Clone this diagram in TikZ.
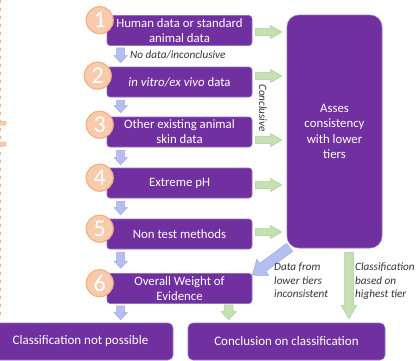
\documentclass[tikz,border=0pt]{standalone}
\usepackage{fontspec}
\setmainfont{Carlito}
\usetikzlibrary{calc}
\definecolor{purp}{HTML}{7030A0}
\definecolor{purpline}{HTML}{9470C0}
\definecolor{peach}{HTML}{F8CBAD}
\definecolor{peachline}{HTML}{F4B183}
\definecolor{bluearr}{HTML}{B4BEF0}
\definecolor{bluearrline}{HTML}{9FAAE6}
\definecolor{greenarr}{HTML}{C5E0B4}
\definecolor{greenarrline}{HTML}{A9D18E}
\definecolor{lbl}{HTML}{333333}
% #1 style, #2 half shaft, #3 half head, #4 head length, #5 from, #6 to
\newcommand\blockarr[6]{%
 \path[#1] let \p1=(#5), \p2=(#6), \n1={atan2(\y2-\y1,\x2-\x1)}, \n2={veclen(\x2-\x1,\y2-\y1)-#4} in
 ($(\p1)+(\n1+90:#2pt)$) -- ($(\p1)+(\n1:\n2)+(\n1+90:#2pt)$) -- ($(\p1)+(\n1:\n2)+(\n1+90:#3pt)$) -- (\p2) -- ($(\p1)+(\n1:\n2)+(\n1-90:#3pt)$) -- ($(\p1)+(\n1:\n2)+(\n1-90:#2pt)$) -- ($(\p1)+(\n1-90:#2pt)$) -- cycle;}
\begin{document}
\begin{tikzpicture}[x=1pt,y=-1pt,
  tier/.style={draw=purpline, line width=0.6pt, fill=purp, rounded corners=3pt, minimum width=145pt, minimum height=30pt, text=white, align=center, font=\fontsize{12.8}{15}\selectfont, inner sep=0pt},
  bigbox/.style={draw=purpline, line width=0.6pt, fill=purp, rounded corners=12pt, minimum width=95pt, minimum height=233pt, text=white, align=center, font=\fontsize{12.8}{15.5}\selectfont, inner sep=0pt},
  endbox/.style={draw=purpline, line width=0.6pt, fill=purp, rounded corners=5pt, minimum height=37pt, text=white, align=center, font=\fontsize{13}{15}\selectfont, inner sep=0pt},
  num/.style={circle, draw=peachline, line width=1.2pt, fill=peach, minimum size=27pt, inner sep=0pt, text=white, font=\fontsize{24}{24}\selectfont},
  lab/.style={text=lbl, font=\fontsize{11.2}{13.5}\selectfont\itshape, inner sep=0pt},
  bluea/.style={fill=bluearr, draw=bluearrline, line width=0.5pt},
  greena/.style={fill=greenarr, draw=greenarrline, line width=0.5pt}
]
\useasboundingbox (0,0) rectangle (416,360);
\clip (0,0) rectangle (416,360);
\fill[white] (0,0) rectangle (416,360);

% left edge decoration
\draw[peachline, line width=1pt, dash pattern=on 3pt off 5pt] (0.5,0) -- (0.5,320);
\draw[peachline, fill=peach, rounded corners=1pt, line width=0.5pt] (-2,121) rectangle (6,125);
\draw[peachline, fill=peach, rounded corners=1pt, line width=0.5pt] (-2,142) rectangle (6,146);

% tier boxes
\node[tier] (b1) at (179.5,30.5) {Human data or standard\\animal data};
\node[tier] (b2) at (179.5,82) {\textit{in vitro/ex vivo} data};
\node[tier] (b3) at (179.5,132) {Other existing animal\\skin data};
\node[tier] (b4) at (179.5,183) {Extreme pH};
\node[tier] (b5) at (179.5,234) {Non test methods};
\node[tier] (b6) at (179.5,288.5) {Overall Weight of\\Evidence};

\node[bigbox] (big) at (334.5,131.5) {Asses\\consistency\\with lower\\tiers};

\node[endbox, minimum width=185pt] (cnp) at (80.5,341.5) {Classification not possible};
\node[endbox, minimum width=197pt] (cc) at (286.5,341.5) {Conclusion on classification};

% number circles
\node[num] (n1) at ($(b1.north west)+(-7,5)$) {1};
\node[num] (n2) at ($(b2.north west)+(-9,9)$) {2};
\node[num] (n3) at ($(b3.north west)+(-7,8)$) {3};
\node[num] (n4) at ($(b4.north west)+(-7,10)$) {4};
\node[num] (n5) at ($(b5.north west)+(-7,10)$) {5};
\node[num] (n6) at ($(b6.north west)+(-7,10)$) {6};

% blue down arrows
\blockarr{bluea}{4}{6.5}{7}{$(b1.south west)+(14,2)$}{$(b2.north west)+(14,-4)$}
\blockarr{bluea}{4}{6.5}{7}{$(b2.south west)+(14,3)$}{$(b3.north west)+(14,-4)$}
\blockarr{bluea}{4}{6.5}{7}{$(b3.south west)+(14,3)$}{$(b4.north west)+(14,-3)$}
\blockarr{bluea}{4}{6.5}{7}{$(b4.south west)+(14,3)$}{$(b5.north west)+(14,-4)$}
\blockarr{bluea}{4}{6.5}{7}{$(b5.south west)+(14,3)$}{$(b6.north west)+(14,-5)$}
\blockarr{bluea}{4}{6.5}{7}{$(b6.south west)+(14,2)$}{$(b6.south west |- cnp.north)+(14,-3)$}

% green horizontal arrows
\blockarr{greena}{3.5}{6.5}{11}{$(b1.east)+(3,1.5)$}{$(big.west |- b1.east)+(-5,1.5)$}
\blockarr{greena}{3.5}{6.5}{11}{$(b2.east)+(3,-6)$}{$(big.west |- b2.east)+(-5,-6)$}
\blockarr{greena}{3.5}{6.5}{11}{$(b3.east)+(3,8)$}{$(big.west |- b3.east)+(-5,8)$}
\blockarr{greena}{3.5}{6.5}{11}{$(b4.east)+(3,2)$}{$(big.west |- b4.east)+(-5,2)$}
\blockarr{greena}{3.5}{6.5}{11}{$(b5.east)+(3,-2)$}{$(big.west |- b5.east)+(-5,-2)$}

% green down arrows
\blockarr{greena}{4.5}{7.5}{13}{$(big.south)+(14.5,4)$}{$(big.south |- cc.north)+(14.5,-4)$}
\blockarr{greena}{4.5}{7.5}{8}{$(b6.south west)+(122,1)$}{$(b6.south west |- cc.north)+(122,-3)$}

% blue diagonal arrow
\blockarr{bluea}{5}{10}{13}{$(big.south west)+(3,-1)$}{$(b6.north east)+(0,2)$}

% labels
\node[lab, anchor=west] (l1) at (130,55) {No data/inconclusive};
\node[lab, rotate=-90] (l2) at (263,108) {Conclusive};
\node[lab, anchor=north west, align=left] (l3) at (274,263) {Data from\\lower tiers\\inconsistent};
\node[lab, anchor=north west, align=left] (l4) at (355,263) {Classification\\based on\\highest tier};
\end{tikzpicture}
\end{document}
